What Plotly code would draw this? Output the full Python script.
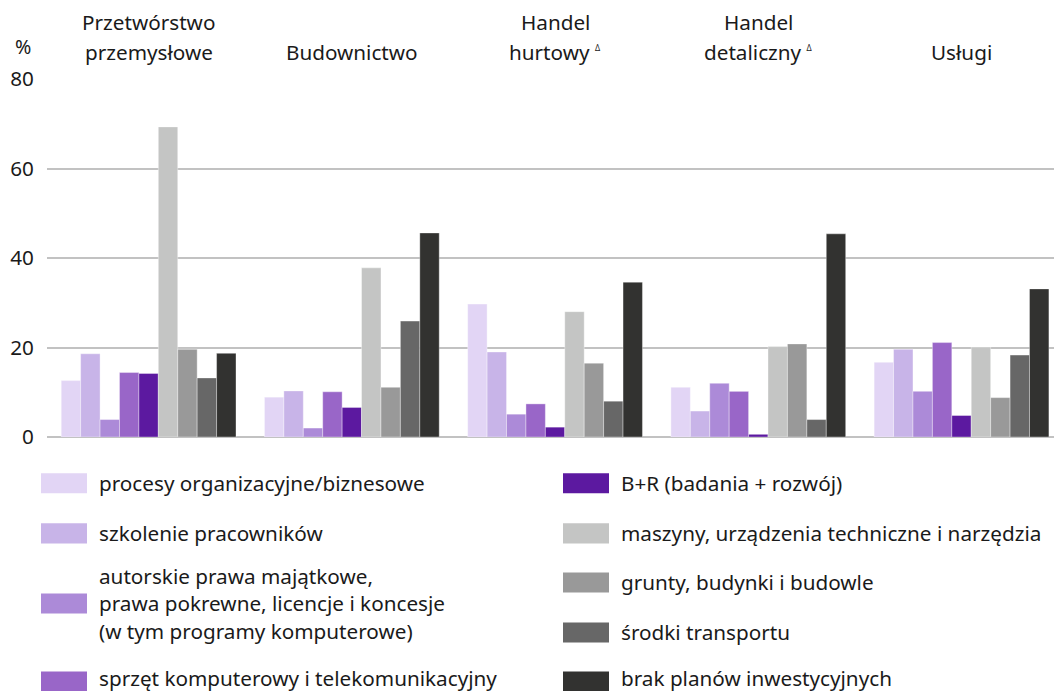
import plotly.graph_objects as go

categories = [
    "Przetwórstwo<br>przemysłowe",
    "Budownictwo",
    "Handel<br>hurtowy <sup><span style='font-size:8px'>Δ</span></sup>",
    "Handel<br>detaliczny <sup><span style='font-size:8px'>Δ</span></sup>",
    "Usługi",
]

series_names = [
    "procesy organizacyjne/biznesowe",
    "szkolenie pracowników",
    "autorskie prawa majątkowe,<br>prawa pokrewne, licencje i koncesje<br>(w tym programy komputerowe)",
    "sprzęt komputerowy i telekomunikacyjny",
    "B+R (badania + rozwój)",
    "maszyny, urządzenia techniczne i narzędzia",
    "grunty, budynki i budowle",
    "środki transportu",
    "brak planów inwestycyjnych",
]

procesy = [12.6, 8.9, 29.7, 11.1, 16.7]
szkolenie = [18.6, 10.3, 19.0, 5.8, 19.6]
autorskie = [3.9, 2.0, 5.1, 12.0, 10.2]
sprzet = [14.4, 10.1, 7.4, 10.2, 21.1]
br = [14.2, 6.6, 2.2, 0.6, 4.8]
maszyny = [69.3, 37.8, 28.0, 20.2, 20.1]
grunty = [19.6, 11.1, 16.5, 20.8, 8.8]
srodki = [13.2, 25.9, 8.0, 3.9, 18.3]
brak = [18.7, 45.6, 34.6, 45.4, 33.1]

values = [procesy, szkolenie, autorskie, sprzet, br, maszyny, grunty, srodki, brak]

colors = ["#E2D5F5", "#C8B4E8", "#AC8AD8", "#9966C8", "#5C19A0",
          "#C4C5C4", "#999999", "#676767", "#323230"]

y_ticks = [0, 20, 40, 60, 80]

FONT = "Noto Sans"
TXT = "#1a1a1a"
FS = 20.7

fig = go.Figure()
xs = list(range(len(categories)))
for name, vals, col in zip(series_names, values, colors):
    fig.add_trace(go.Bar(
        x=xs, y=vals, name=name, marker_color=col,
        marker_line=dict(width=0.8, color="rgba(255,255,255,0.45)"),
        showlegend=False,
    ))

PL, PT, PB = 47, 79, 436.7
PW = 1007.0
PH = PB - PT

fig.update_layout(
    width=1054, height=691,
    margin=dict(l=PL, r=0, t=PT, b=691 - PB),
    barmode="group", bargap=0.14, bargroupgap=0,
    plot_bgcolor="white", paper_bgcolor="white",
    font=dict(family=FONT, size=FS, color=TXT),
    xaxis=dict(range=[-0.5, 4.455], showticklabels=False, showgrid=False,
               zeroline=False, showline=False, fixedrange=True),
    yaxis=dict(range=[0, 80], tickvals=y_ticks, showgrid=True,
               gridcolor="#C2C2C2", gridwidth=1.5, zeroline=True,
               zerolinecolor="#C2C2C2", zerolinewidth=1.5,
               ticks="outside", ticklen=8, tickcolor="rgba(0,0,0,0)",
               tickfont=dict(size=FS, color=TXT), fixedrange=True),
)


def px_to_paper(px, py):
    return (px - PL) / PW, (PB - py) / PH


# category labels above plot (each line placed separately, bottom line at y~52)
for i, c in enumerate(categories):
    lines = c.split("<br>")
    for k, ln in enumerate(reversed(lines)):
        _, ty = px_to_paper(0, 52 - 30 * k)
        fig.add_annotation(x=i, y=ty, xref="x", yref="paper", text=ln,
                           showarrow=False, yanchor="middle",
                           font=dict(size=FS, color=TXT, family=FONT))

# unit label
ux, uy = px_to_paper(23, 47)
fig.add_annotation(x=ux, y=uy, xref="paper", yref="paper", text="%",
                   showarrow=False, xanchor="center", yanchor="middle",
                   font=dict(size=FS - 1, color=TXT, family=FONT))

# manual legend
left_rows = [483, 533, 603, 681]
right_rows = [483, 533, 582, 632, 681]
positions = [(41, r) for r in left_rows] + [(563, r) for r in right_rows]
for (px, py), name, col in zip(positions, series_names, colors):
    x0, y0 = px_to_paper(px, py - 10)
    x1, y1 = px_to_paper(px + 46, py + 10)
    fig.add_shape(type="rect", xref="paper", yref="paper",
                  x0=x0, x1=x1, y0=y1, y1=y0, fillcolor=col,
                  line=dict(width=0))
    lines = name.split("<br>")
    n = len(lines)
    ty_center = min(py, 677)
    for k, ln in enumerate(lines):
        tx, ty = px_to_paper(px + 56, ty_center + (k - (n - 1) / 2) * 27.5)
        fig.add_annotation(x=tx, y=ty, xref="paper", yref="paper", text=ln,
                           showarrow=False, xanchor="left", yanchor="middle",
                           align="left", font=dict(size=FS, color=TXT, family=FONT))

fig.write_html("out.html", config={"displayModeBar": False},
               post_script="document.body.style.margin='0';document.body.style.overflow='hidden';")
